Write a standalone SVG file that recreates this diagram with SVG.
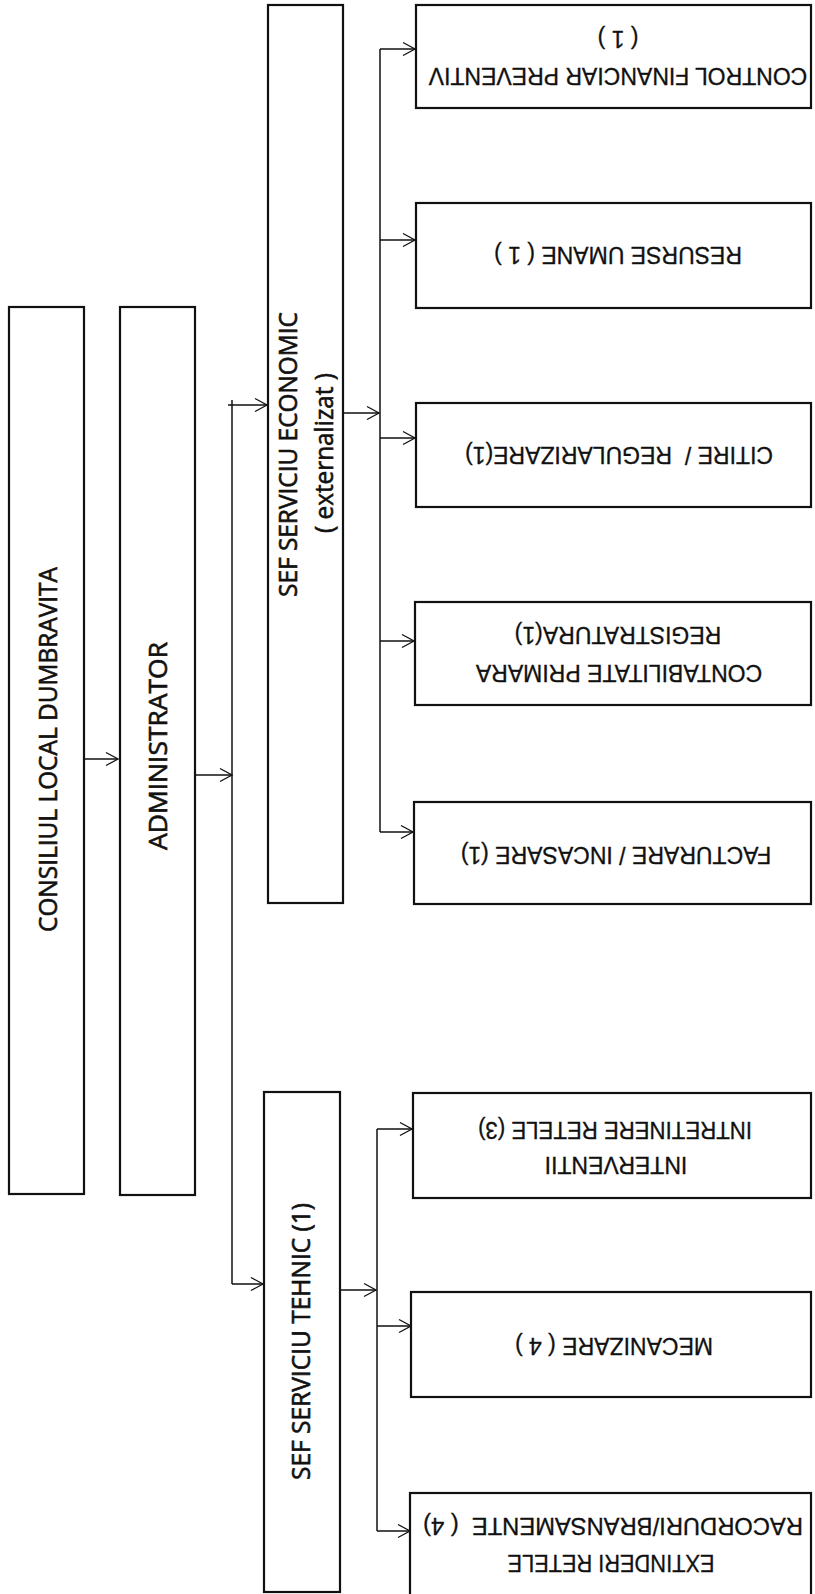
<svg xmlns="http://www.w3.org/2000/svg" width="815" height="1594" viewBox="0 0 815 1594">
<style>
.box{fill:#fff;stroke:#111;stroke-width:2.2}
.con{fill:none;stroke:#111;stroke-width:1.5}
.lt{font-family:"Open Sans","Noto Sans",sans-serif;font-size:25px;fill:#111;stroke:#111;stroke-width:0.6;text-anchor:middle}
.rt{font-family:"Liberation Sans",Arial,sans-serif;font-size:23px;fill:#111;stroke:#111;stroke-width:0.3;text-anchor:middle}
</style>
<defs>
<marker id="ah" markerUnits="userSpaceOnUse" markerWidth="16" markerHeight="16" refX="13" refY="8" orient="auto">
<path d="M1,1.5 L13,8 L1,14.5" fill="none" stroke="#111" stroke-width="1.3"/>
</marker>
</defs>
<rect width="815" height="1594" fill="#fff"/>
<g id="connectors">
<path class="con" d="M84,759 H118" marker-end="url(#ah)"/>
<path class="con" d="M195,775 H232" marker-end="url(#ah)"/>
<path class="con" d="M232,400 V1284"/>
<path class="con" d="M228,405 H267" marker-end="url(#ah)"/>
<path class="con" d="M232,1284 H263" marker-end="url(#ah)"/>
<path class="con" d="M343,413 H379" marker-end="url(#ah)"/>
<path class="con" d="M380,49 V832"/>
<path class="con" d="M380,49 H415" marker-end="url(#ah)"/>
<path class="con" d="M380,240 H415" marker-end="url(#ah)"/>
<path class="con" d="M380,438 H415" marker-end="url(#ah)"/>
<path class="con" d="M380,641 H414" marker-end="url(#ah)"/>
<path class="con" d="M380,832 H413" marker-end="url(#ah)"/>
<path class="con" d="M340,1290 H376" marker-end="url(#ah)"/>
<path class="con" d="M377,1129 V1531"/>
<path class="con" d="M377,1129 H412" marker-end="url(#ah)"/>
<path class="con" d="M377,1326 H411" marker-end="url(#ah)"/>
<path class="con" d="M377,1531 H410" marker-end="url(#ah)"/>
</g>
<g id="consiliu">
<rect class="box" x="9" y="307" width="75" height="887"/>
<text class="lt" x="57" y="749.5" transform="rotate(-90 57 749.5)" textLength="365" lengthAdjust="spacingAndGlyphs">CONSILIUL LOCAL DUMBRAVITA</text>
</g>
<g id="administrator">
<rect class="box" x="120" y="307" width="75" height="888"/>
<text class="lt" x="167" y="746" transform="rotate(-90 167 746)" textLength="208" lengthAdjust="spacingAndGlyphs">ADMINISTRATOR</text>
</g>
<g id="sef-economic">
<rect class="box" x="268" y="5" width="75" height="898"/>
<text class="lt" x="297" y="454.5" transform="rotate(-90 297 454.5)" textLength="285" lengthAdjust="spacingAndGlyphs">SEF SERVICIU ECONOMIC</text>
<text class="lt" x="333" y="453" transform="rotate(-90 333 453)" textLength="160" lengthAdjust="spacingAndGlyphs">( externalizat )</text>
</g>
<g id="sef-tehnic">
<rect class="box" x="264" y="1092" width="76" height="500"/>
<text class="lt" x="310" y="1341.5" transform="rotate(-90 310 1341.5)" textLength="277" lengthAdjust="spacingAndGlyphs">SEF SERVICIU TEHNIC (1)</text>
</g>
<g id="control">
<rect class="box" x="416" y="5" width="395" height="103"/>
<text class="rt" x="618" y="68" transform="rotate(180 618 68)">CONTROL FINANCIAR PREVENTIV</text>
<text class="rt" x="618" y="31" transform="rotate(180 618 31)" xml:space="preserve">( 1 )</text>
</g>
<g id="resurse">
<rect class="box" x="416" y="203" width="395" height="105"/>
<text class="rt" x="618" y="247" transform="rotate(180 618 247)" xml:space="preserve">RESURSE UMANE ( 1 )</text>
</g>
<g id="citire">
<rect class="box" x="416" y="403" width="395" height="104"/>
<text class="rt" x="619" y="447" transform="rotate(180 619 447)" xml:space="preserve">CITIRE /  REGULARIZARE(1)</text>
</g>
<g id="contabilitate">
<rect class="box" x="415" y="602" width="396" height="103"/>
<text class="rt" x="619" y="665" transform="rotate(180 619 665)">CONTABILITATE PRIMARA</text>
<text class="rt" x="618" y="627" transform="rotate(180 618 627)">REGISTRATURA(1)</text>
</g>
<g id="facturare">
<rect class="box" x="414" y="802" width="397" height="102"/>
<text class="rt" x="616" y="847" transform="rotate(180 616 847)">FACTURARE / INCASARE (1)</text>
</g>
<g id="interventii">
<rect class="box" x="413" y="1093" width="398" height="105"/>
<text class="rt" x="616" y="1157" transform="rotate(180 616 1157)">INTERVENTII</text>
<text class="rt" x="615" y="1122" transform="rotate(180 615 1122)" textLength="274" lengthAdjust="spacingAndGlyphs">INTRETINERE RETELE (3)</text>
</g>
<g id="mecanizare">
<rect class="box" x="411" y="1292" width="400" height="105"/>
<text class="rt" x="614" y="1338" transform="rotate(180 614 1338)" xml:space="preserve">MECANIZARE ( 4 )</text>
</g>
<g id="extinderi">
<rect class="box" x="410" y="1493" width="401" height="104"/>
<text class="rt" x="611" y="1555" transform="rotate(180 611 1555)" textLength="207" lengthAdjust="spacingAndGlyphs">EXTINDERI RETELE</text>
<text class="rt" x="613" y="1518" transform="rotate(180 613 1518)" xml:space="preserve" textLength="380" lengthAdjust="spacingAndGlyphs">RACORDURI/BRANSAMENTE  ( 4)</text>
</g>
</svg>
